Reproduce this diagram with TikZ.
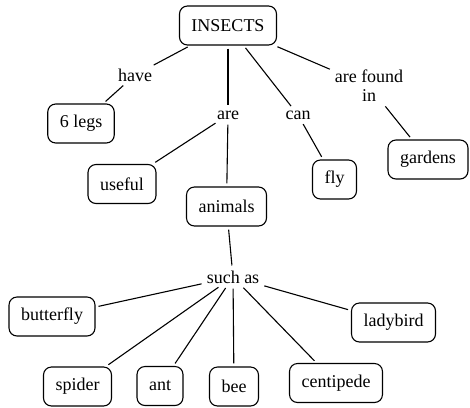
\documentclass[tikz,border=0pt]{standalone}
\usepackage{fontspec}
\setmainfont{Liberation Serif}
\tikzset{
	concept/.style={draw, rounded corners=8pt, line width=1.1pt, minimum height=39pt, inner xsep=12pt},
	linkword/.style={inner sep=2pt, align=center},
	link/.style={line width=1.1pt, shorten <=3pt, shorten >=3pt}
}

\begin{document}
\begin{tikzpicture}[x=1pt, y=-1pt, font=\fontsize{18}{19}\selectfont]
	\useasboundingbox (0, 0) rectangle (470, 407);
	% Concepts:
	\node[concept] (insects) at (228, 25.5) {INSECTS};
	\node[concept] (legs) at (81, 123.5) {6 legs};
	\node[concept] (useful) at (122, 184) {useful};
	\node[concept] (animals) at (226.5, 206.5) {animals};
	\node[concept] (fly) at (334.5, 179.5) {fly};
	\node[concept] (gardens) at (428, 159.5) {gardens};
	\node[concept] (butterfly) at (52, 316.5) {butterfly};
	\node[concept] (ladybird) at (393.5, 322.5) {ladybird};
	\node[concept] (spider) at (77.5, 386.5) {spider};
	\node[concept] (ant) at (160, 386) {ant};
	\node[concept] (bee) at (234, 386.5) {bee};
	\node[concept] (centipede) at (336, 383) {centipede};
	% Linking words:
	\node[linkword] (have) at (135, 75) {have};
	\node[linkword] (are) at (228, 115) {are};
	\node[linkword] (can) at (298, 115) {can};
	\node[linkword] (found) at (369, 86) {are found\\in};
	\node[linkword] (such) at (233, 277) {such as};
	% Links:
	\draw[link] (insects) -- (have);
	\draw[link] (have) -- (legs);
	\draw[link] (insects) -- (are);
	\draw[link] (are) -- (useful);
	\draw[link] (are) -- (animals);
	\draw[link] (insects) -- (can);
	\draw[link] (can) -- (fly);
	\draw[link] (insects) -- (found);
	\draw[link] (found) -- (gardens);
	\draw[link] (animals) -- (such);
	\draw[link] (such) -- (butterfly);
	\draw[link] (such) -- (spider);
	\draw[link] (such) -- (ant);
	\draw[link] (such) -- (bee);
	\draw[link] (such) -- (centipede);
	\draw[link] (such) -- (ladybird);
\end{tikzpicture}
\end{document}
